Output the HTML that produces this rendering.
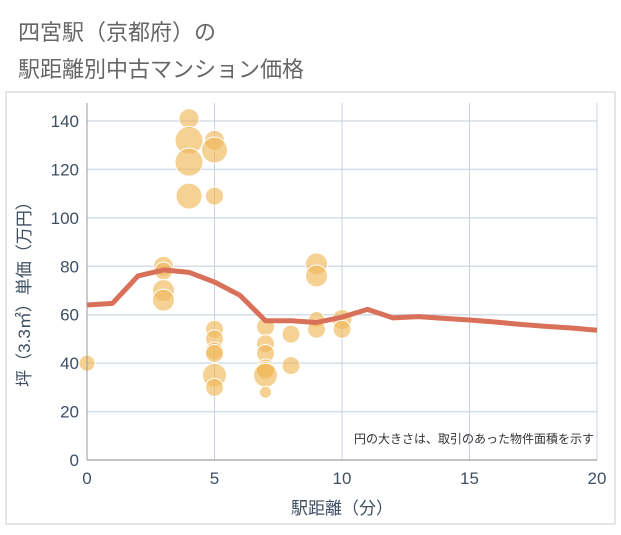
<!DOCTYPE html>
<html><head><meta charset="utf-8"><style>
body{margin:0;background:#fff;}
svg text{font-family:"Liberation Sans","Noto Sans CJK JP",sans-serif;}
</style></head><body>
<svg width="621" height="530" viewBox="0 0 621 530">
<rect x="0" y="0" width="621" height="530" fill="#fff"/>
<text x="18" y="40" font-size="22" fill="#666">四宮駅（京都府）の</text>
<text x="18" y="77" font-size="22" fill="#666">駅距離別中古マンション価格</text>
<g id="grid"></g>
<g id="bubbles"></g>
<g id="line"></g>
<g id="axes"></g>
<text x="594" y="443" font-size="12" fill="#333" text-anchor="end">円の大きさは、取引のあった物件面積を示す</text>
<text x="342" y="514" font-size="17" fill="#3d4f63" text-anchor="middle">駅距離（分）</text>
<text transform="translate(30,290) rotate(-90)" font-size="17" fill="#3d4f63" text-anchor="middle">坪（3.3㎡）単価（万円）</text>
</svg>
<script>
const xTicks=[0,5,10,15,20];
const yTicks=[0,20,40,60,80,100,120,140];
const bubbleX=[0,3,3,3,3,4,4,4,4,5,5,5,5,5,5,5,5,5,7,7,7,7,7,7,7,8,8,9,9,9,9,10,10];
const bubbleY=[40,80,78,70,66,141,132,123,109,132,128,109,54,50,45,44,35,30,55,48,44,38,37,35,28,52,39,81,76,58,54,58,54];
const bubbleR=[8,10,9,11,11,10,14,14,13,10,13,9,9,9,9,9,12,9,9,9,9,9,9,12,6,9,9,11,11,8,9,10,9];
const lineX=[0,1,2,3,4,5,6,7,8,9,10,11,12,13,14,15,16,17,18,19,20];
const lineY=[64,64.7,76,78.5,77.5,73.5,68,57.5,57.5,56.8,59,62.2,58.7,59.2,58.5,57.8,57,56,55.2,54.5,53.6];
const L=87,R=597,T=103,B=460;
const sx=v=>L+(R-L)*v/20, sy=v=>B-(B-121)*v/140;
const NS='http://www.w3.org/2000/svg';
function mk(tag,parent,attrs){const e=document.createElementNS(NS,tag);for(const k in attrs)e.setAttribute(k,attrs[k]);document.getElementById(parent).appendChild(e);return e;}
const fr=mk('rect','grid',{x:6,y:92,width:609,height:432,fill:'none',stroke:'#ccc'});


yTicks.forEach(v=>{const l=mk('line','grid',{x1:L,x2:R,y1:sy(v),y2:sy(v),stroke:'#d5dde6','stroke-width':1.5});


const t=mk('text','axes',{x:L-8,y:sy(v)+6,'font-size':17,fill:'#3d4f63','text-anchor':'end'});t.textContent=v;

});
xTicks.forEach(v=>{const l=mk('line','grid',{x1:sx(v),x2:sx(v),y1:T,y2:B,stroke:'#c5d0dc','stroke-width':1});


const t=mk('text','axes',{x:sx(v),y:B+24,'font-size':17,fill:'#3d4f63','text-anchor':'middle'});t.textContent=v;

});
const ax=mk('line','axes',{x1:L,x2:L,y1:T,y2:B,stroke:'#999','stroke-width':1});


const ax2=mk('line','axes',{x1:L,x2:R,y1:B,y2:B,stroke:'#999','stroke-width':1});


bubbleX.forEach((x,i)=>{const c=mk('circle','bubbles',{cx:sx(x),cy:sy(bubbleY[i]),r:bubbleR[i],fill:'rgba(240,185,90,0.65)',stroke:'#fff','stroke-width':1});

});
const p=mk('polyline','line',{points:lineX.map((x,i)=>sx(x)+','+sy(lineY[i])).join(' '),fill:'none',stroke:'#d9705a','stroke-width':5,'stroke-linejoin':'round'});


</script>
</body></html>
